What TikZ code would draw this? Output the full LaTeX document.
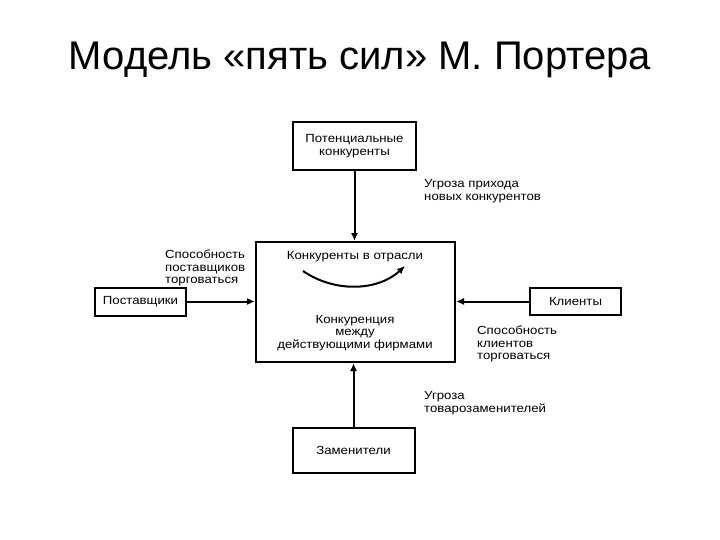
\documentclass[tikz,border=0pt]{standalone}
\usepackage{fontspec}
\setmainfont{Liberation Sans}
\newfontfamily\widefont[FakeStretch=1.12]{Liberation Sans}
\usetikzlibrary{arrows.meta}
\begin{document}
\begin{tikzpicture}[x=1pt,y=-1pt,
  box/.style={draw, line width=2pt, inner sep=0pt, font=\widefont\fontsize{11.8}{12.5}\selectfont, align=center},
  lbl/.style={inner sep=0pt, font=\widefont\fontsize{11.8}{12.5}\selectfont, align=left},
  arr/.style={line width=2pt, -{Latex[length=8pt,width=7pt]}}]
\useasboundingbox[fill=white] (0,0) rectangle (720,540);
\node[font=\fontsize{40}{44}\selectfont] (title) at (360,60) {Модель «пять сил» М. Портера};
\node[box, minimum width=199pt, minimum height=120pt] (center) at (355.5,302) {};
\node[box, minimum width=123pt, minimum height=48pt] (top) at (354.5,146) {Потенциальные\\конкуренты};
\node[box, minimum width=122pt, minimum height=45pt] (bottom) at (353.5,450.5) {Заменители};
\node[box, minimum width=91pt, minimum height=28pt] (left) at (140.5,301.5) {Поставщики};
\node[box, minimum width=91pt, minimum height=27pt] (right) at (575.5,301.5) {Клиенты};
\node[inner sep=0pt, font=\widefont\fontsize{11.8}{12.5}\selectfont] (c1) at (355,257) {Конкуренты в отрасли};
\node[inner sep=0pt, font=\widefont\fontsize{11.8}{12.5}\selectfont, align=center] (c2) at (355,333) {Конкуренция\\между\\действующими фирмами};
\coordinate (ca) at (303,271);
\coordinate (cb) at (405,266);
\draw[line width=2pt, -{Latex[length=8pt,width=7pt]}] (ca) .. controls (335,293) and (378,291) .. (cb);
\draw[arr] (top) -- (top |- center.north);
\draw[arr] (bottom) -- (bottom |- center.south);
\draw[arr] (left.east) -- (left.east -| center.west);
\draw[arr] (right.west) -- (right.west -| center.east);
\node[lbl, anchor=west] (l1) at (424,191) {Угроза прихода\\новых конкурентов};
\node[lbl, anchor=west] (l2) at (165,268) {Способность\\поставщиков\\торговаться};
\node[lbl, anchor=west] (l3) at (477,344) {Способность\\клиентов\\торговаться};
\node[lbl, anchor=west] (l4) at (424,403) {Угроза\\товарозаменителей};
\end{tikzpicture}
\end{document}
